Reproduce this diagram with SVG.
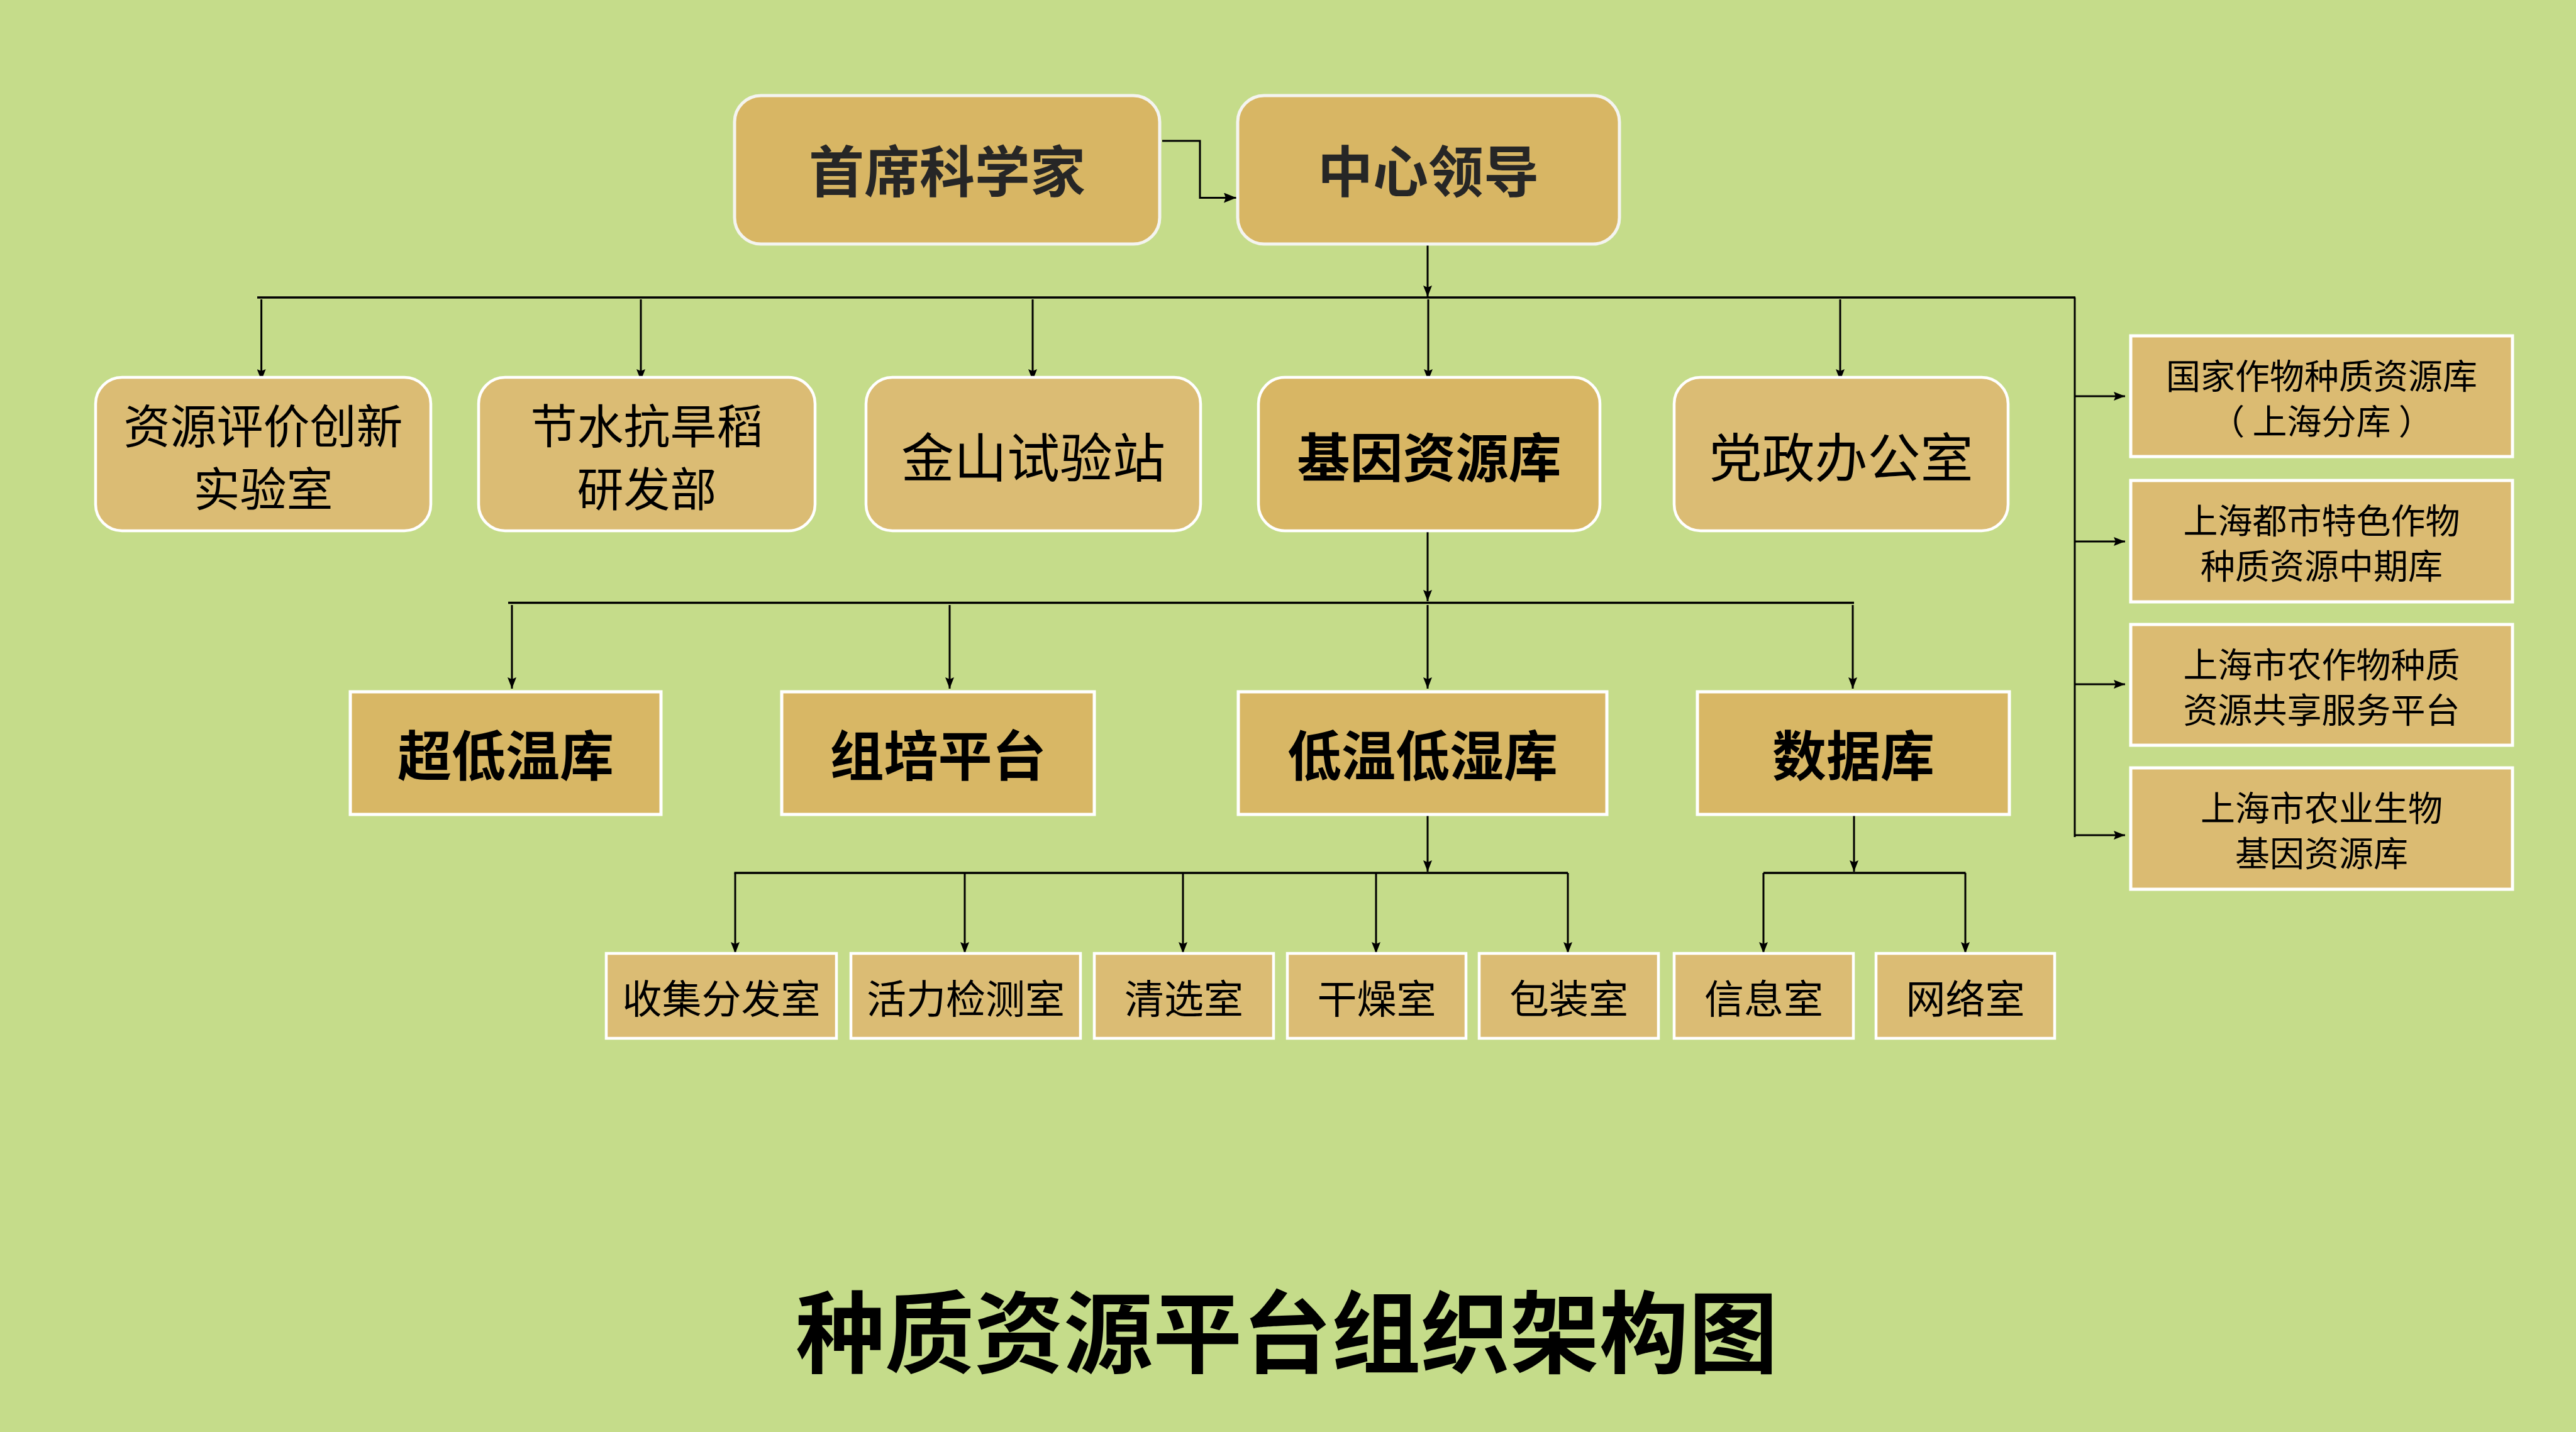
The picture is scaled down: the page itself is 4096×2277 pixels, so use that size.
<svg xmlns="http://www.w3.org/2000/svg" width="4096" height="2277" viewBox="0 0 4096 2277">
<defs>
<marker id="arr" markerUnits="userSpaceOnUse" markerWidth="18" markerHeight="14" refX="18" refY="7" orient="auto">
<path d="M0,0 L18,7 L0,14 L3,7 Z" fill="#000"/>
</marker>
<marker id="arrB" markerUnits="userSpaceOnUse" markerWidth="20" markerHeight="16" refX="20" refY="8" orient="auto">
<path d="M0,0 L20,8 L0,16 L3,8 Z" fill="#000"/>
</marker>
<style>
text{font-family:"Noto Sans CJK SC","Noto Sans CJK TC",sans-serif;text-anchor:middle;dominant-baseline:central;fill:#000}
.top rect{fill:#D8B664;stroke:#F4F4F0;stroke-width:5}
.top text{font-size:88px;font-weight:700;fill:#262626}
.r2 rect{fill:#DBBC74;stroke:#FFFFFF;stroke-width:4.5}
.r2 text{font-size:74px}
.r2 text.one{font-size:84px}
.r2.bold rect{fill:#D8B664}
.r2.bold text{font-weight:700}
.r3 rect{fill:#D8B765;stroke:#FFFFFF;stroke-width:5}
.r3 text{font-size:86px;font-weight:700}
.r4 rect{fill:#DBBC74;stroke:#FFFFFF;stroke-width:4.5}
.r4 text{font-size:63px}
.side rect{fill:#DBBB72;stroke:#FFFFFF;stroke-width:5}
.side text{font-size:55px}
.conn line,.conn path{stroke:#000;stroke-width:3;fill:none}
.conn .bus{stroke-width:3.5}
</style>
</defs>
<rect x="0" y="0" width="4096" height="2277" fill="#C5DC8A"/>

<g class="conn">
<path d="M1848,224 H1908 V314.5 H1966" stroke-width="4.5" marker-end="url(#arrB)"/>
<line x1="2270" y1="388" x2="2270" y2="472" marker-end="url(#arr)"/>
<line class="bus" x1="409" y1="473" x2="3300" y2="473"/>
<line x1="415.6" y1="476" x2="415.6" y2="605" marker-end="url(#arr)"/>
<line x1="1019" y1="476" x2="1019" y2="605" marker-end="url(#arr)"/>
<line x1="1642" y1="476" x2="1642" y2="605" marker-end="url(#arr)"/>
<line x1="2271" y1="476" x2="2271" y2="605" marker-end="url(#arr)"/>
<line x1="2926" y1="476" x2="2926" y2="605" marker-end="url(#arr)"/>
<line x1="3299" y1="473" x2="3299" y2="1331"/>
<line x1="3299" y1="630" x2="3379" y2="630" marker-end="url(#arr)"/>
<line x1="3299" y1="861" x2="3379" y2="861" marker-end="url(#arr)"/>
<line x1="3299" y1="1088" x2="3379" y2="1088" marker-end="url(#arr)"/>
<line x1="3299" y1="1328" x2="3379" y2="1328" marker-end="url(#arr)"/>
<line x1="2270" y1="845" x2="2270" y2="956" marker-end="url(#arr)"/>
<line class="bus" x1="808" y1="958.5" x2="2948" y2="958.5"/>
<line x1="814" y1="962" x2="814" y2="1095" marker-end="url(#arr)"/>
<line x1="1510" y1="962" x2="1510" y2="1095" marker-end="url(#arr)"/>
<line x1="2270" y1="962" x2="2270" y2="1095" marker-end="url(#arr)"/>
<line x1="2946" y1="962" x2="2946" y2="1095" marker-end="url(#arr)"/>
<line x1="2270" y1="1296" x2="2270" y2="1386" marker-end="url(#arr)"/>
<line class="bus" x1="1167.5" y1="1388" x2="2493" y2="1388"/>
<line x1="1169" y1="1388" x2="1169" y2="1516" marker-end="url(#arr)"/>
<line x1="1534" y1="1388" x2="1534" y2="1516" marker-end="url(#arr)"/>
<line x1="1881" y1="1388" x2="1881" y2="1516" marker-end="url(#arr)"/>
<line x1="2188" y1="1388" x2="2188" y2="1516" marker-end="url(#arr)"/>
<line x1="2493" y1="1388" x2="2493" y2="1516" marker-end="url(#arr)"/>
<line x1="2948" y1="1296" x2="2948" y2="1386" marker-end="url(#arr)"/>
<line class="bus" x1="2804" y1="1388" x2="3125.5" y2="1388"/>
<line x1="2804" y1="1388" x2="2804" y2="1516" marker-end="url(#arr)"/>
<line x1="3125" y1="1388" x2="3125" y2="1516" marker-end="url(#arr)"/>
</g>

<g id="n-shouxi" class="top"><rect x="1168" y="152" width="676" height="236" rx="42"/><text x="1506" y="266">首席科学家</text></g>
<g id="n-zhongxin" class="top"><rect x="1968" y="152" width="607" height="236" rx="42"/><text x="2271" y="266">中心领导</text></g>

<g id="n-ziyuan" class="r2"><rect x="152" y="600" width="533" height="244" rx="42"/><text x="418.5" y="672">资源评价创新</text><text x="418.5" y="772">实验室</text></g>
<g id="n-jieshui" class="r2"><rect x="761" y="600" width="535" height="244" rx="42"/><text x="1028.5" y="672">节水抗旱稻</text><text x="1028.5" y="772">研发部</text></g>
<g id="n-jinshan" class="r2"><rect x="1377" y="600" width="532" height="244" rx="42"/><text class="one" x="1643" y="722">金山试验站</text></g>
<g id="n-jiyin" class="r2 bold"><rect x="2001" y="600" width="543" height="244" rx="42"/><text class="one" x="2272.5" y="722">基因资源库</text></g>
<g id="n-dangzheng" class="r2"><rect x="2662" y="600" width="531" height="244" rx="42"/><text class="one" x="2927.5" y="722">党政办公室</text></g>

<g id="n-guojia" class="side"><rect x="3388" y="534" width="607" height="192"/><text x="3691.5" y="594">国家作物种质资源库</text><text x="3691.5" y="666">（ 上海分库 ）</text></g>
<g id="n-dushi" class="side"><rect x="3388" y="764" width="607" height="193"/><text x="3691.5" y="824">上海都市特色作物</text><text x="3691.5" y="896">种质资源中期库</text></g>
<g id="n-gongxiang" class="side"><rect x="3388" y="993" width="607" height="192"/><text x="3691.5" y="1053">上海市农作物种质</text><text x="3691.5" y="1125">资源共享服务平台</text></g>
<g id="n-nongye" class="side"><rect x="3388" y="1221" width="607" height="193"/><text x="3691.5" y="1281">上海市农业生物</text><text x="3691.5" y="1353">基因资源库</text></g>

<g id="n-chaodiwen" class="r3"><rect x="557" y="1100" width="494" height="195"/><text x="804" y="1196">超低温库</text></g>
<g id="n-zupei" class="r3"><rect x="1243" y="1100" width="497" height="195"/><text x="1491.5" y="1196">组培平台</text></g>
<g id="n-diwen" class="r3"><rect x="1969" y="1100" width="586" height="195"/><text x="2262" y="1196">低温低湿库</text></g>
<g id="n-shuju" class="r3"><rect x="2699" y="1100" width="496" height="195"/><text x="2947" y="1196">数据库</text></g>

<g id="n-shouji" class="r4"><rect x="964" y="1516" width="366" height="135"/><text x="1147" y="1583">收集分发室</text></g>
<g id="n-huoli" class="r4"><rect x="1353" y="1516" width="365" height="135"/><text x="1535.5" y="1583">活力检测室</text></g>
<g id="n-qingxuan" class="r4"><rect x="1740" y="1516" width="285" height="135"/><text x="1882.5" y="1583">清选室</text></g>
<g id="n-ganzao" class="r4"><rect x="2047" y="1516" width="284" height="135"/><text x="2189" y="1583">干燥室</text></g>
<g id="n-baozhuang" class="r4"><rect x="2352" y="1516" width="285" height="135"/><text x="2494.5" y="1583">包装室</text></g>
<g id="n-xinxi" class="r4"><rect x="2662" y="1516" width="285" height="135"/><text x="2804.5" y="1583">信息室</text></g>
<g id="n-wangluo" class="r4"><rect x="2983" y="1516" width="284" height="135"/><text x="3125" y="1583">网络室</text></g>

<text x="2046" y="2110" style="font-size:142px;font-weight:700">种质资源平台组织架构图</text>
</svg>
